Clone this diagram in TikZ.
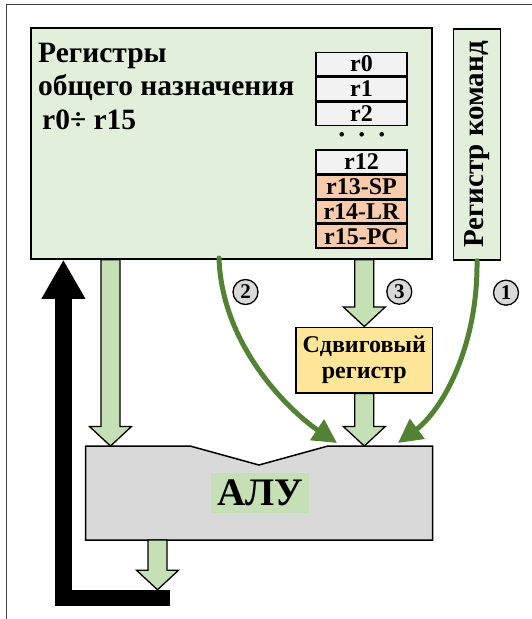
\documentclass[tikz,border=0pt]{standalone}
\usepackage{fontspec}
\setmainfont{Liberation Serif}
\usepackage{tikz}
\usetikzlibrary{arrows.meta,positioning,calc}
\definecolor{cGreenF}{HTML}{E2EFDA}
\definecolor{cArrowF}{HTML}{C5E0B4}
\definecolor{cGrayF}{HTML}{F2F2F2}
\definecolor{cSalmonF}{HTML}{F8CBAD}
\definecolor{cAmberF}{HTML}{FFE699}
\definecolor{cAluF}{HTML}{D9D9D9}
\definecolor{cCtrl}{HTML}{548235}
\definecolor{cFrame}{HTML}{404040}
\tikzset{
  blk/.style      = {draw, line width=1.5pt, inner sep=0pt, align=center, font=\bfseries},
  gpr/.style      = {blk, fill=cGreenF},
  gprtitle/.style = {inner sep=0pt, align=left, font=\fontsize{29.5}{33.5}\selectfont\bfseries},
  reg/.style      = {blk, fill=cGrayF, minimum width=91pt, minimum height=23.4pt,
                     font=\fontsize{24}{24}\selectfont\bfseries},
  sreg/.style     = {reg, fill=cSalmonF},
  shiftreg/.style = {blk, fill=cAmberF, font=\fontsize{24}{26.3}\selectfont\bfseries},
  alubody/.style  = {draw, fill=cAluF, line width=1.5pt, line join=miter},
  alulabel/.style = {fill=cArrowF, inner sep=0pt, minimum width=98pt, minimum height=40pt,
                     font=\fontsize{39}{39}\selectfont\bfseries},
  badge/.style    = {circle, draw, fill=cAluF, line width=1.3pt, inner sep=0pt,
                     minimum size=25pt, font=\fontsize{21}{21}\selectfont\bfseries},
  ctrl/.style     = {cCtrl, line width=5pt, line cap=round, -{Triangle[length=24pt,width=24pt]}},
  fback/.style    = {black, line width=16.5pt, line join=miter, -{Triangle[length=39pt,width=41pt]}},
  frame/.style    = {cFrame, line width=1.3pt},
  barrow/.style   = {draw=black, fill=cArrowF, line width=1.3pt, line join=miter,
                     to path={let \p1=(\tikztostart), \p2=(\tikztotarget) in
                       (\x1-9.5pt,\y1) -- (\x1-9.5pt,\y2+19.5pt) -- (\x1-21pt,\y2+19.5pt)
                       -- (\x2,\y2) -- (\x1+21pt,\y2+19.5pt) -- (\x1+9.5pt,\y2+19.5pt)
                       -- (\x1+9.5pt,\y1) -- cycle}},
}
\begin{document}
\begin{tikzpicture}[x=1pt, y=-1pt]
  \useasboundingbox (0,0) rectangle (532,619);
  \draw[frame] (6.5,619) -- (6.5,4.7) -- (532,4.7);

  % general purpose registers
  \node[gpr, minimum width=401pt, minimum height=231pt] (gpr) at (231.5,143.5) {};
  \node[gprtitle, anchor=north west] (gprname) at (38,42.5) {Регистры\\общего назначения\\\hspace*{4pt}r0÷ r15};
  \node[reg] (r0) at (361.5,64) {r0};
  \node[reg, below=0pt of r0] (r1) {r1};
  \node[reg, below=0pt of r1] (r2) {r2};
  \node[reg, below=23pt of r2] (r12) {r12};
  \node[sreg, below=0pt of r12] (r13) {r13-SP};
  \node[sreg, below=0pt of r13] (r14) {r14-LR};
  \node[sreg, below=0pt of r14] (r15) {r15-PC};
  \fill (341.7,134.3) circle (2.3pt) (361.7,134.3) circle (2.3pt) (381.7,134.3) circle (2.3pt);

  % instruction register
  \node[gpr, rotate=90, minimum width=231pt, minimum height=47pt,
        font=\fontsize{29}{29}\selectfont\bfseries] (cmd) at (477,144.5) {Регистр команд};

  % shift register
  \node[shiftreg, minimum width=136.5pt, minimum height=65.5pt] (shift) at (364.3,360) {Сдвиговый\\регистр};

  % ALU
  \draw[alubody] (85.7,446) coordinate (alu nw) -- (190,446) -- (259,465) -- (328,446)
    -- (432.7,446) coordinate (alu ne) -- (432.7,540) -- (85.7,540) -- cycle;
  \node[alulabel] (alu) at (260,492.8) {АЛУ};
  \coordinate (in1) at (110.5,446);
  \coordinate (aluout) at (157.5,540);
  \coordinate (otip) at (157.5,589.75);
  \coordinate (fbend) at (170,598);
  \coordinate (fbx) at (63.4,598);
  \coordinate (c1) at (398,443);
  \coordinate (c2) at (337,443);
  \coordinate (c2s) at (219,258);

  % data paths
  \draw[barrow] (in1 |- gpr.south) to (in1);
  \draw[barrow] (shift.north |- gpr.south) to (shift.north);
  \draw[barrow] (shift.south) to (shift.south |- alu ne);
  \draw[barrow] (aluout) to (otip);
  \draw[fback] (fbend) -| (fbx |- gpr.south);

  % control
  \draw[ctrl] (cmd.west) .. controls (478,350) and (440,412) .. (c1);
  \draw[ctrl] (c2s) .. controls (222,350) and (295,415) .. (c2);
  \node[badge] (n1) at (506,292.7) {1};
  \node[badge] (n2) at (245.5,292) {2};
  \node[badge] (n3) at (399.3,291.7) {3};
\end{tikzpicture}
\end{document}
